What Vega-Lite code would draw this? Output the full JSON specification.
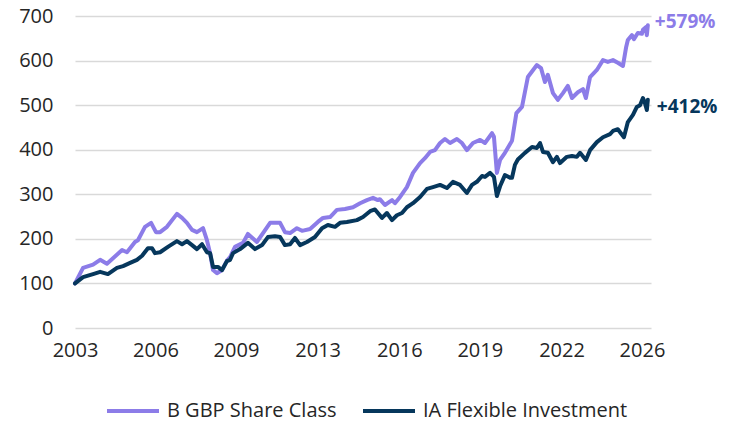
{
  "$schema": "https://vega.github.io/schema/vega-lite/v6.json",
  "width": 576,
  "height": 312,
  "autosize": "none",
  "padding": {"left": 75, "top": 16, "right": 78, "bottom": 95},
  "background": "white",
  "config": {
    "view": {"stroke": null},
    "font": "Open Sans",
    "axis": {"labelFont": "Open Sans", "labelFontSize": 20, "labelColor": "#262626", "domain": false, "ticks": false, "title": null}
  },
  "datasets": {
    "lines": [
      {"s": "B GBP Share Class", "year": 2003.00, "v": 100},
      {"s": "B GBP Share Class", "year": 2003.33, "v": 135},
      {"s": "B GBP Share Class", "year": 2003.74, "v": 142},
      {"s": "B GBP Share Class", "year": 2004.03, "v": 153},
      {"s": "B GBP Share Class", "year": 2004.31, "v": 144},
      {"s": "B GBP Share Class", "year": 2004.93, "v": 175},
      {"s": "B GBP Share Class", "year": 2005.13, "v": 170},
      {"s": "B GBP Share Class", "year": 2005.46, "v": 193},
      {"s": "B GBP Share Class", "year": 2005.58, "v": 197},
      {"s": "B GBP Share Class", "year": 2005.87, "v": 227},
      {"s": "B GBP Share Class", "year": 2006.12, "v": 236},
      {"s": "B GBP Share Class", "year": 2006.32, "v": 215},
      {"s": "B GBP Share Class", "year": 2006.49, "v": 215},
      {"s": "B GBP Share Class", "year": 2006.77, "v": 227},
      {"s": "B GBP Share Class", "year": 2007.18, "v": 256},
      {"s": "B GBP Share Class", "year": 2007.39, "v": 247},
      {"s": "B GBP Share Class", "year": 2007.59, "v": 236},
      {"s": "B GBP Share Class", "year": 2007.80, "v": 220},
      {"s": "B GBP Share Class", "year": 2008.00, "v": 215},
      {"s": "B GBP Share Class", "year": 2008.25, "v": 224},
      {"s": "B GBP Share Class", "year": 2008.41, "v": 197},
      {"s": "B GBP Share Class", "year": 2008.54, "v": 168},
      {"s": "B GBP Share Class", "year": 2008.66, "v": 130},
      {"s": "B GBP Share Class", "year": 2008.82, "v": 123},
      {"s": "B GBP Share Class", "year": 2009.03, "v": 130},
      {"s": "B GBP Share Class", "year": 2009.23, "v": 151},
      {"s": "B GBP Share Class", "year": 2009.36, "v": 159},
      {"s": "B GBP Share Class", "year": 2009.56, "v": 182},
      {"s": "B GBP Share Class", "year": 2009.89, "v": 191},
      {"s": "B GBP Share Class", "year": 2010.09, "v": 211},
      {"s": "B GBP Share Class", "year": 2010.46, "v": 193},
      {"s": "B GBP Share Class", "year": 2010.71, "v": 213},
      {"s": "B GBP Share Class", "year": 2011.00, "v": 236},
      {"s": "B GBP Share Class", "year": 2011.41, "v": 236},
      {"s": "B GBP Share Class", "year": 2011.61, "v": 215},
      {"s": "B GBP Share Class", "year": 2011.82, "v": 213},
      {"s": "B GBP Share Class", "year": 2012.10, "v": 224},
      {"s": "B GBP Share Class", "year": 2012.31, "v": 218},
      {"s": "B GBP Share Class", "year": 2012.64, "v": 222},
      {"s": "B GBP Share Class", "year": 2012.96, "v": 238},
      {"s": "B GBP Share Class", "year": 2013.17, "v": 247},
      {"s": "B GBP Share Class", "year": 2013.46, "v": 249},
      {"s": "B GBP Share Class", "year": 2013.74, "v": 265},
      {"s": "B GBP Share Class", "year": 2014.07, "v": 267},
      {"s": "B GBP Share Class", "year": 2014.40, "v": 271},
      {"s": "B GBP Share Class", "year": 2014.69, "v": 280},
      {"s": "B GBP Share Class", "year": 2014.97, "v": 287},
      {"s": "B GBP Share Class", "year": 2015.22, "v": 292},
      {"s": "B GBP Share Class", "year": 2015.42, "v": 287},
      {"s": "B GBP Share Class", "year": 2015.50, "v": 289},
      {"s": "B GBP Share Class", "year": 2015.71, "v": 276},
      {"s": "B GBP Share Class", "year": 2016.00, "v": 287},
      {"s": "B GBP Share Class", "year": 2016.12, "v": 280},
      {"s": "B GBP Share Class", "year": 2016.33, "v": 294},
      {"s": "B GBP Share Class", "year": 2016.61, "v": 316},
      {"s": "B GBP Share Class", "year": 2016.86, "v": 348},
      {"s": "B GBP Share Class", "year": 2017.15, "v": 370},
      {"s": "B GBP Share Class", "year": 2017.35, "v": 381},
      {"s": "B GBP Share Class", "year": 2017.56, "v": 395},
      {"s": "B GBP Share Class", "year": 2017.76, "v": 399},
      {"s": "B GBP Share Class", "year": 2017.97, "v": 415},
      {"s": "B GBP Share Class", "year": 2018.17, "v": 424},
      {"s": "B GBP Share Class", "year": 2018.38, "v": 415},
      {"s": "B GBP Share Class", "year": 2018.66, "v": 424},
      {"s": "B GBP Share Class", "year": 2018.87, "v": 415},
      {"s": "B GBP Share Class", "year": 2019.07, "v": 399},
      {"s": "B GBP Share Class", "year": 2019.32, "v": 415},
      {"s": "B GBP Share Class", "year": 2019.61, "v": 422},
      {"s": "B GBP Share Class", "year": 2019.81, "v": 415},
      {"s": "B GBP Share Class", "year": 2020.10, "v": 437},
      {"s": "B GBP Share Class", "year": 2020.18, "v": 429},
      {"s": "B GBP Share Class", "year": 2020.30, "v": 348},
      {"s": "B GBP Share Class", "year": 2020.43, "v": 377},
      {"s": "B GBP Share Class", "year": 2020.63, "v": 393},
      {"s": "B GBP Share Class", "year": 2020.92, "v": 420},
      {"s": "B GBP Share Class", "year": 2021.10, "v": 482},
      {"s": "B GBP Share Class", "year": 2021.33, "v": 496},
      {"s": "B GBP Share Class", "year": 2021.57, "v": 563},
      {"s": "B GBP Share Class", "year": 2021.94, "v": 590},
      {"s": "B GBP Share Class", "year": 2022.11, "v": 583},
      {"s": "B GBP Share Class", "year": 2022.27, "v": 552},
      {"s": "B GBP Share Class", "year": 2022.39, "v": 568},
      {"s": "B GBP Share Class", "year": 2022.60, "v": 527},
      {"s": "B GBP Share Class", "year": 2022.80, "v": 512},
      {"s": "B GBP Share Class", "year": 2023.01, "v": 527},
      {"s": "B GBP Share Class", "year": 2023.21, "v": 543},
      {"s": "B GBP Share Class", "year": 2023.38, "v": 516},
      {"s": "B GBP Share Class", "year": 2023.62, "v": 529},
      {"s": "B GBP Share Class", "year": 2023.83, "v": 536},
      {"s": "B GBP Share Class", "year": 2023.95, "v": 516},
      {"s": "B GBP Share Class", "year": 2024.12, "v": 563},
      {"s": "B GBP Share Class", "year": 2024.40, "v": 579},
      {"s": "B GBP Share Class", "year": 2024.65, "v": 601},
      {"s": "B GBP Share Class", "year": 2024.85, "v": 597},
      {"s": "B GBP Share Class", "year": 2025.06, "v": 601},
      {"s": "B GBP Share Class", "year": 2025.26, "v": 595},
      {"s": "B GBP Share Class", "year": 2025.47, "v": 588},
      {"s": "B GBP Share Class", "year": 2025.60, "v": 630},
      {"s": "B GBP Share Class", "year": 2025.67, "v": 646},
      {"s": "B GBP Share Class", "year": 2025.84, "v": 657},
      {"s": "B GBP Share Class", "year": 2025.92, "v": 648},
      {"s": "B GBP Share Class", "year": 2026.08, "v": 662},
      {"s": "B GBP Share Class", "year": 2026.25, "v": 660},
      {"s": "B GBP Share Class", "year": 2026.29, "v": 669},
      {"s": "B GBP Share Class", "year": 2026.41, "v": 675},
      {"s": "B GBP Share Class", "year": 2026.45, "v": 657},
      {"s": "B GBP Share Class", "year": 2026.49, "v": 679},
      {"s": "IA Flexible Investment", "year": 2003.00, "v": 100},
      {"s": "IA Flexible Investment", "year": 2003.33, "v": 114},
      {"s": "IA Flexible Investment", "year": 2003.74, "v": 121},
      {"s": "IA Flexible Investment", "year": 2004.03, "v": 126},
      {"s": "IA Flexible Investment", "year": 2004.35, "v": 121},
      {"s": "IA Flexible Investment", "year": 2004.72, "v": 135},
      {"s": "IA Flexible Investment", "year": 2004.97, "v": 139},
      {"s": "IA Flexible Investment", "year": 2005.26, "v": 146},
      {"s": "IA Flexible Investment", "year": 2005.54, "v": 153},
      {"s": "IA Flexible Investment", "year": 2005.75, "v": 162},
      {"s": "IA Flexible Investment", "year": 2005.99, "v": 179},
      {"s": "IA Flexible Investment", "year": 2006.16, "v": 179},
      {"s": "IA Flexible Investment", "year": 2006.28, "v": 168},
      {"s": "IA Flexible Investment", "year": 2006.49, "v": 170},
      {"s": "IA Flexible Investment", "year": 2006.81, "v": 182},
      {"s": "IA Flexible Investment", "year": 2007.18, "v": 195},
      {"s": "IA Flexible Investment", "year": 2007.39, "v": 188},
      {"s": "IA Flexible Investment", "year": 2007.59, "v": 195},
      {"s": "IA Flexible Investment", "year": 2007.80, "v": 186},
      {"s": "IA Flexible Investment", "year": 2008.00, "v": 177},
      {"s": "IA Flexible Investment", "year": 2008.21, "v": 188},
      {"s": "IA Flexible Investment", "year": 2008.41, "v": 170},
      {"s": "IA Flexible Investment", "year": 2008.54, "v": 168},
      {"s": "IA Flexible Investment", "year": 2008.66, "v": 137},
      {"s": "IA Flexible Investment", "year": 2008.86, "v": 137},
      {"s": "IA Flexible Investment", "year": 2009.03, "v": 130},
      {"s": "IA Flexible Investment", "year": 2009.23, "v": 150},
      {"s": "IA Flexible Investment", "year": 2009.36, "v": 153},
      {"s": "IA Flexible Investment", "year": 2009.48, "v": 168},
      {"s": "IA Flexible Investment", "year": 2009.77, "v": 177},
      {"s": "IA Flexible Investment", "year": 2010.09, "v": 191},
      {"s": "IA Flexible Investment", "year": 2010.38, "v": 177},
      {"s": "IA Flexible Investment", "year": 2010.67, "v": 186},
      {"s": "IA Flexible Investment", "year": 2010.91, "v": 204},
      {"s": "IA Flexible Investment", "year": 2011.20, "v": 206},
      {"s": "IA Flexible Investment", "year": 2011.41, "v": 204},
      {"s": "IA Flexible Investment", "year": 2011.61, "v": 186},
      {"s": "IA Flexible Investment", "year": 2011.82, "v": 188},
      {"s": "IA Flexible Investment", "year": 2012.02, "v": 202},
      {"s": "IA Flexible Investment", "year": 2012.23, "v": 186},
      {"s": "IA Flexible Investment", "year": 2012.51, "v": 193},
      {"s": "IA Flexible Investment", "year": 2012.84, "v": 204},
      {"s": "IA Flexible Investment", "year": 2013.13, "v": 224},
      {"s": "IA Flexible Investment", "year": 2013.37, "v": 231},
      {"s": "IA Flexible Investment", "year": 2013.66, "v": 227},
      {"s": "IA Flexible Investment", "year": 2013.87, "v": 236},
      {"s": "IA Flexible Investment", "year": 2014.15, "v": 238},
      {"s": "IA Flexible Investment", "year": 2014.56, "v": 242},
      {"s": "IA Flexible Investment", "year": 2014.81, "v": 249},
      {"s": "IA Flexible Investment", "year": 2015.10, "v": 262},
      {"s": "IA Flexible Investment", "year": 2015.30, "v": 266},
      {"s": "IA Flexible Investment", "year": 2015.42, "v": 258},
      {"s": "IA Flexible Investment", "year": 2015.59, "v": 247},
      {"s": "IA Flexible Investment", "year": 2015.79, "v": 258},
      {"s": "IA Flexible Investment", "year": 2016.00, "v": 242},
      {"s": "IA Flexible Investment", "year": 2016.20, "v": 253},
      {"s": "IA Flexible Investment", "year": 2016.41, "v": 258},
      {"s": "IA Flexible Investment", "year": 2016.61, "v": 271},
      {"s": "IA Flexible Investment", "year": 2016.86, "v": 280},
      {"s": "IA Flexible Investment", "year": 2017.15, "v": 294},
      {"s": "IA Flexible Investment", "year": 2017.43, "v": 312},
      {"s": "IA Flexible Investment", "year": 2017.68, "v": 316},
      {"s": "IA Flexible Investment", "year": 2017.97, "v": 321},
      {"s": "IA Flexible Investment", "year": 2018.25, "v": 314},
      {"s": "IA Flexible Investment", "year": 2018.50, "v": 328},
      {"s": "IA Flexible Investment", "year": 2018.79, "v": 321},
      {"s": "IA Flexible Investment", "year": 2019.07, "v": 303},
      {"s": "IA Flexible Investment", "year": 2019.28, "v": 321},
      {"s": "IA Flexible Investment", "year": 2019.48, "v": 328},
      {"s": "IA Flexible Investment", "year": 2019.69, "v": 341},
      {"s": "IA Flexible Investment", "year": 2019.81, "v": 339},
      {"s": "IA Flexible Investment", "year": 2020.02, "v": 348},
      {"s": "IA Flexible Investment", "year": 2020.18, "v": 339},
      {"s": "IA Flexible Investment", "year": 2020.30, "v": 296},
      {"s": "IA Flexible Investment", "year": 2020.43, "v": 318},
      {"s": "IA Flexible Investment", "year": 2020.63, "v": 343},
      {"s": "IA Flexible Investment", "year": 2020.71, "v": 341},
      {"s": "IA Flexible Investment", "year": 2020.84, "v": 337},
      {"s": "IA Flexible Investment", "year": 2020.92, "v": 337},
      {"s": "IA Flexible Investment", "year": 2021.04, "v": 366},
      {"s": "IA Flexible Investment", "year": 2021.16, "v": 378},
      {"s": "IA Flexible Investment", "year": 2021.45, "v": 393},
      {"s": "IA Flexible Investment", "year": 2021.74, "v": 406},
      {"s": "IA Flexible Investment", "year": 2021.94, "v": 404},
      {"s": "IA Flexible Investment", "year": 2022.07, "v": 415},
      {"s": "IA Flexible Investment", "year": 2022.19, "v": 395},
      {"s": "IA Flexible Investment", "year": 2022.39, "v": 393},
      {"s": "IA Flexible Investment", "year": 2022.60, "v": 372},
      {"s": "IA Flexible Investment", "year": 2022.76, "v": 384},
      {"s": "IA Flexible Investment", "year": 2022.89, "v": 370},
      {"s": "IA Flexible Investment", "year": 2023.17, "v": 384},
      {"s": "IA Flexible Investment", "year": 2023.38, "v": 386},
      {"s": "IA Flexible Investment", "year": 2023.58, "v": 384},
      {"s": "IA Flexible Investment", "year": 2023.71, "v": 393},
      {"s": "IA Flexible Investment", "year": 2023.95, "v": 377},
      {"s": "IA Flexible Investment", "year": 2024.12, "v": 399},
      {"s": "IA Flexible Investment", "year": 2024.40, "v": 417},
      {"s": "IA Flexible Investment", "year": 2024.65, "v": 428},
      {"s": "IA Flexible Investment", "year": 2024.94, "v": 435},
      {"s": "IA Flexible Investment", "year": 2025.06, "v": 442},
      {"s": "IA Flexible Investment", "year": 2025.26, "v": 446},
      {"s": "IA Flexible Investment", "year": 2025.51, "v": 428},
      {"s": "IA Flexible Investment", "year": 2025.67, "v": 462},
      {"s": "IA Flexible Investment", "year": 2025.88, "v": 478},
      {"s": "IA Flexible Investment", "year": 2026.04, "v": 496},
      {"s": "IA Flexible Investment", "year": 2026.17, "v": 500},
      {"s": "IA Flexible Investment", "year": 2026.29, "v": 516},
      {"s": "IA Flexible Investment", "year": 2026.37, "v": 505},
      {"s": "IA Flexible Investment", "year": 2026.45, "v": 489},
      {"s": "IA Flexible Investment", "year": 2026.49, "v": 512}
    ],
    "ends": [
      {"s": "B GBP Share Class", "year": 2026.49, "v": 679, "label": "+579%"},
      {"s": "IA Flexible Investment", "year": 2026.49, "v": 512, "label": "+412%"}
    ]
  },
  "layer": [
    {
      "data": {"name": "lines"},
      "mark": {"type": "line", "strokeWidth": 4, "strokeJoin": "round", "strokeCap": "round"},
      "encoding": {
        "x": {
          "field": "year", "type": "quantitative",
          "scale": {"domain": [2003, 2026.62], "nice": false, "zero": false},
          "axis": {
            "grid": false, "labelPadding": 12, "labelFlush": false,
            "values": [2003, 2006.3, 2009.6, 2012.95, 2016.3, 2019.6, 2022.95, 2026.25],
            "labelExpr": "datum.value < 2004 ? '2003' : datum.value < 2007 ? '2006' : datum.value < 2010 ? '2009' : datum.value < 2014 ? '2013' : datum.value < 2017 ? '2016' : datum.value < 2020 ? '2019' : datum.value < 2024 ? '2022' : '2026'"
          }
        },
        "y": {
          "field": "v", "type": "quantitative",
          "scale": {"domain": [0, 700], "nice": false},
          "axis": {"values": [0, 100, 200, 300, 400, 500, 600, 700], "grid": true, "gridColor": "#D9D9D9", "gridWidth": 1.5, "labelPadding": 22}
        },
        "color": {
          "field": "s", "type": "nominal",
          "scale": {"domain": ["B GBP Share Class", "IA Flexible Investment"], "range": ["#8C7CE8", "#06375C"]},
          "legend": {
            "title": null, "orient": "none", "legendX": 30, "legendY": 367,
            "direction": "horizontal", "symbolType": "stroke", "symbolSize": 2704,
            "symbolStrokeWidth": 4, "labelFont": "Open Sans", "labelFontSize": 20, "labelColor": "#262626",
            "labelOffset": 6, "columnPadding": 18, "padding": 0, "labelLimit": 400
          }
        }
      }
    },
    {
      "data": {"name": "ends"},
      "transform": [{"filter": "datum.s == 'B GBP Share Class'"}],
      "mark": {"type": "text", "align": "left", "baseline": "middle", "dx": 7, "dy": -3, "fontSize": 19, "fontWeight": "bold", "font": "Open Sans", "color": "#8C7CE8"},
      "encoding": {
        "x": {"field": "year", "type": "quantitative"},
        "y": {"field": "v", "type": "quantitative"},
        "text": {"field": "label"}
      }
    },
    {
      "data": {"name": "ends"},
      "transform": [{"filter": "datum.s == 'IA Flexible Investment'"}],
      "mark": {"type": "text", "align": "left", "baseline": "middle", "dx": 9, "dy": 7, "fontSize": 19, "fontWeight": "bold", "font": "Open Sans", "color": "#06375C"},
      "encoding": {
        "x": {"field": "year", "type": "quantitative"},
        "y": {"field": "v", "type": "quantitative"},
        "text": {"field": "label"}
      }
    }
  ]
}
